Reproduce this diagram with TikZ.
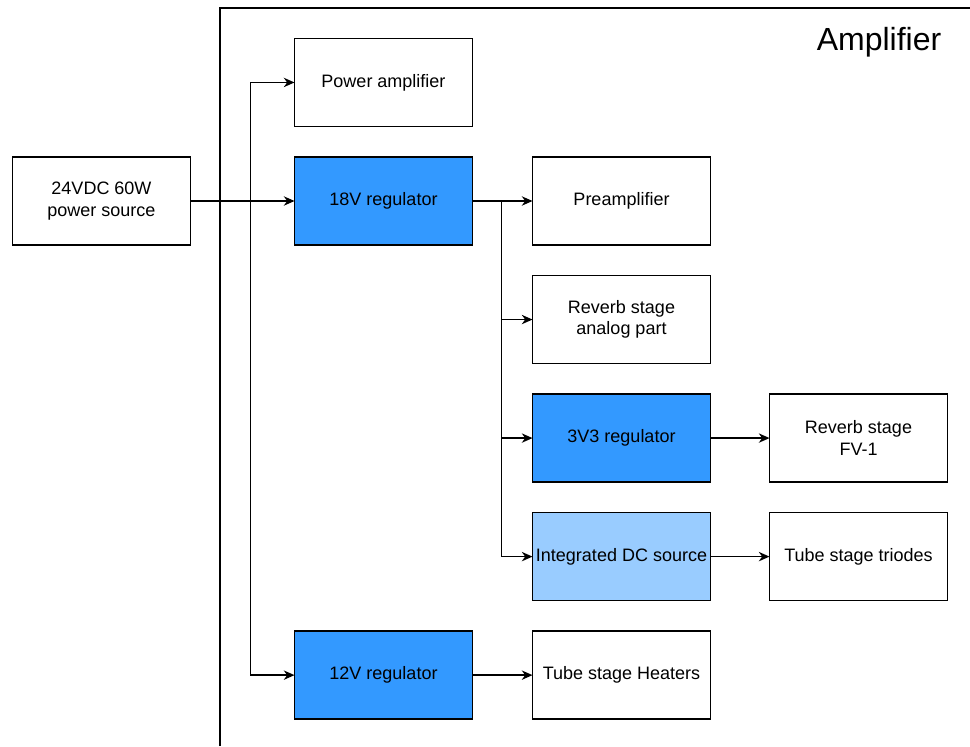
\documentclass[tikz,border=0pt]{standalone}
\usepackage{fontspec}
\setmainfont{Liberation Sans}
\usepackage{xcolor}
\usetikzlibrary{positioning, arrows.meta, calc}

\definecolor{regblue}{HTML}{3399FF}
\definecolor{srcblue}{HTML}{99CCFF}

\begin{document}
\begin{tikzpicture}[x=0.75pt, y=-0.75pt, node distance=22.9pt and 45pt]
    % Styles
    \tikzstyle{block} = [rectangle, draw, line width=1.1pt, fill=white, minimum width=133.5pt, minimum height=66pt, inner sep=1pt, outer sep=0pt, align=center, font=\fontsize{13.5}{16}\selectfont]
    \tikzstyle{regulator} = [block, fill=regblue]
    \tikzstyle{dcsource} = [block, fill=srcblue]
    \tikzstyle{line} = [draw, line width=1.1pt, -{Stealth[length=8pt, width=7pt, inset=2.5pt]}]

    \useasboundingbox (0,0) rectangle (970,746);

    % Amplifier frame
    \draw[line width=1.1pt] (220,746) |- (970,8);
    \node[anchor=base east, font=\fontsize{24}{28}\selectfont] (title) at (946,50) {Amplifier};

    % Nodes
    \node [block] (src) at (101.5,201) {24VDC 60W\\power source};
    \node [regulator, right=78pt of src] (reg18) {18V regulator};
    \node [block, above=of reg18] (pamp) {Power amplifier};
    \node [block, right=of reg18] (preamp) {Preamplifier};
    \node [block, below=of preamp] (reverb) {Reverb stage\\analog part};
    \node [regulator, below=of reverb] (reg33) {3V3 regulator};
    \node [dcsource, below=of reg33] (idc) {Integrated DC source};
    \node [block, below=of idc] (heaters) {Tube stage Heaters};
    \node [regulator, left=of heaters] (reg12) {12V regulator};

    % Side nodes
    \node [block, right=44.25pt of reg33] (fv1) {Reverb stage\\FV-1};
    \node [block, right=44.25pt of idc] (triodes) {Tube stage triodes};

    % Bus points
    \coordinate (bus1) at ([xshift=-33pt]reg18.west);
    \coordinate (bus2) at ([xshift=-23.25pt]preamp.west);

    % Paths
    \path [line] (src) -- (reg18);
    \path [line] (bus1) |- (pamp);
    \path [line] (bus1) |- (reg12);
    \path [line] (reg18) -- (preamp);
    \path [line] (bus2) |- (reverb);
    \path [line] (bus2) |- (reg33);
    \path [line] (bus2) |- (idc);
    \path [line] (reg33) -- (fv1);
    \path [line] (idc) -- (triodes);
    \path [line] (reg12) -- (heaters);
\end{tikzpicture}
\end{document}
